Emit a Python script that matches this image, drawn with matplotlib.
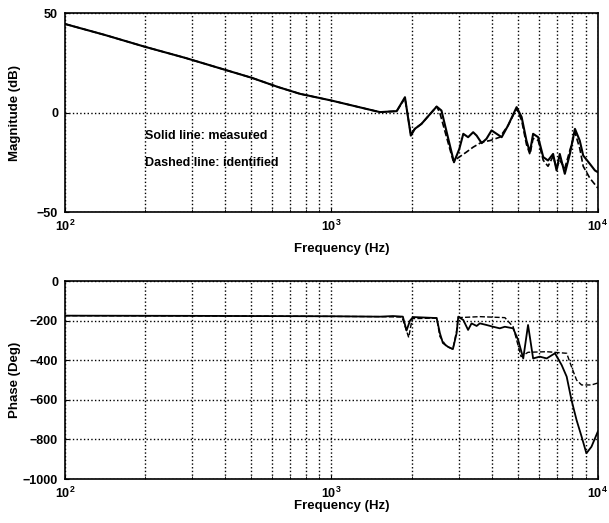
import numpy as np
import matplotlib
matplotlib.use('Agg')
import matplotlib.pyplot as plt
from matplotlib.ticker import FixedLocator, FixedFormatter, LogLocator, NullFormatter

plt.rcParams['font.family'] = ['Liberation Sans', 'DejaVu Sans']
plt.rcParams['font.weight'] = 'bold'
plt.rcParams['mathtext.fontset'] = 'custom'
plt.rcParams['mathtext.rm'] = 'Liberation Sans:bold'
plt.rcParams['mathtext.bf'] = 'Liberation Sans:bold'

# magnitude, measured (solid)
mag_freq = [100, 141, 200, 282, 398, 501, 631, 762, 1002, 1355, 1521, 1758, 1888, 1986,
            2056, 2178, 2483, 2588, 2884, 3020, 3126, 3258, 3404, 3508, 3664, 3819, 3990,
            4169, 4355, 4603, 4955, 5176, 5395, 5559, 5715, 5970, 6237, 6501, 6792, 6998,
            7194, 7516, 7852, 8204, 8551, 8810, 9333, 9750, 10000]
mag_meas = [44.5, 39, 33, 27.5, 21.5, 17.5, 12.8, 9.4, 6.0, 1.8, 0.2, 0.7, 7.7, -11.6,
            -8.2, -5.7, 3.0, 1.0, -25, -18.3, -10.7, -12.4, -9.9, -11.6, -15.4, -13.2, -9.0,
            -10.7, -12.4, -6.5, 2.7, -2.3, -14.1, -19.9, -10.7, -12.4, -22.4, -24.1, -20.8, -29.1,
            -20.8, -30.8, -20.8, -8.2, -14.1, -21.6, -25.8, -29.1, -30]

# magnitude, identified (dashed)
mag_freq_id = [100, 141, 200, 282, 398, 501, 631, 762, 1002, 1355, 1521, 1758, 1888, 1986,
               2056, 2178, 2483, 2550, 2700, 2860, 2950, 3210, 3404, 3664, 3936, 4285,
               4603, 4955, 5176, 5395, 5559, 5715, 5970, 6237, 6501, 6792, 6998, 7194, 7516,
               7852, 8204, 8551, 8810, 9333, 10000]
mag_id = [44.5, 39, 33, 27.5, 21.5, 17.5, 12.8, 9.4, 6.0, 1.8, 0.2, 0.7, 7.2, -11.0,
          -8.2, -5.7, 3.0, 0.0, -12, -24, -23.3, -19.9, -17.4, -14.9, -14.1, -12.4,
          -6.5, 2.0, -4, -16, -21, -13, -14, -24, -27, -22, -28, -24, -28,
          -19, -10, -18, -27, -33, -38]

# phase, measured (solid)
ph_freq = [100, 300, 500, 1000, 1521, 1702, 1854, 1914, 1972, 2024, 2483, 2553, 2620, 2736,
           2857, 2951, 2993, 3126, 3258, 3357, 3508, 3606, 3819, 4046, 4285, 4477, 4808,
           5023, 5248, 5470, 5715, 6053, 6427, 6902, 7311, 7638, 7962, 8318, 8690, 9057,
           9462, 10000]
ph_meas = [-175, -176, -177, -178, -180, -177, -180, -250, -200, -182, -187, -263, -313, -332,
           -344, -263, -180, -197, -247, -214, -227, -214, -222, -231, -239, -231, -239,
           -298, -391, -222, -391, -382, -391, -365, -424, -483, -601, -702, -786, -870,
           -837, -760]

# phase, identified (dashed)
ph_freq_id = [100, 500, 1521, 1840, 1880, 1950, 2010, 2483, 2553, 2700, 2857, 2951, 2993,
              3606, 4477, 4808, 5150, 5470, 6427, 7638, 7962, 8318, 8690, 9462, 10000]
ph_id = [-175, -177, -180, -182, -220, -285, -190, -187, -280, -330, -344, -250, -185,
         -180, -185, -231, -382, -360, -357, -365, -433, -500, -525, -525, -515]

fig = plt.figure(figsize=(6.09, 5.23), dpi=100)
ax1 = fig.add_axes([0.1067, 0.5946, 0.875, 0.3805])
ax2 = fig.add_axes([0.1067, 0.0841, 0.875, 0.3786])

ax1.semilogx(mag_freq, mag_meas, 'k-', lw=1.5)
ax1.semilogx(mag_freq_id, mag_id, 'k--', lw=1.2)
ax2.semilogx(ph_freq, ph_meas, 'k-', lw=1.3)
ax2.semilogx(ph_freq_id, ph_id, 'k--', lw=1.0)

for ax in (ax1, ax2):
    ax.set_xlim(100, 10000)
    ax.xaxis.set_major_locator(FixedLocator([100, 1000, 10000]))
    ax.xaxis.set_major_formatter(FixedFormatter([r'$10^2$', r'$10^3$', r'$10^4$']))
    ax.xaxis.set_minor_locator(LogLocator(base=10, subs=np.arange(2, 10)))
    ax.xaxis.set_minor_formatter(NullFormatter())
    ax.grid(True, which='both', axis='x', color='k', ls=':', lw=1.0)
    ax.grid(True, which='major', axis='y', color='k', ls=':', lw=1.0)
    ax.tick_params(direction='in', labelsize=9, length=3, width=0.8, pad=5)
    ax.tick_params(which='minor', direction='in', length=2)
    for s in ax.spines.values():
        s.set_linewidth(1.2)

ax1.set_ylim(-50, 50)
ax1.set_yticks([-50, 0, 50])
ax1.set_xlabel('Frequency (Hz)', fontsize=9.5, fontweight='bold', va='center')
ax1.xaxis.set_label_coords(0.52, -0.186)
ax1.set_ylabel('Magnitude (dB)', fontsize=9.5, fontweight='bold')
ax1.yaxis.set_label_coords(-0.083, 0.5)
ax1.text(200, -11.6, 'Solid line: measured', fontsize=9, fontweight='bold', va='center')
ax1.text(200, -25.6, 'Dashed line: identified', fontsize=9, fontweight='bold', va='center')

ax2.set_ylim(-1000, 0)
ax2.set_yticks([-1000, -800, -600, -400, -200, 0])
ax2.set_xlabel('Frequency (Hz)', fontsize=9.5, fontweight='bold', va='center')
ax2.xaxis.set_label_coords(0.52, -0.135)
ax2.set_ylabel('Phase (Deg)', fontsize=9.5, fontweight='bold')
ax2.yaxis.set_label_coords(-0.083, 0.5)

fig.savefig('out.png', dpi=100)
